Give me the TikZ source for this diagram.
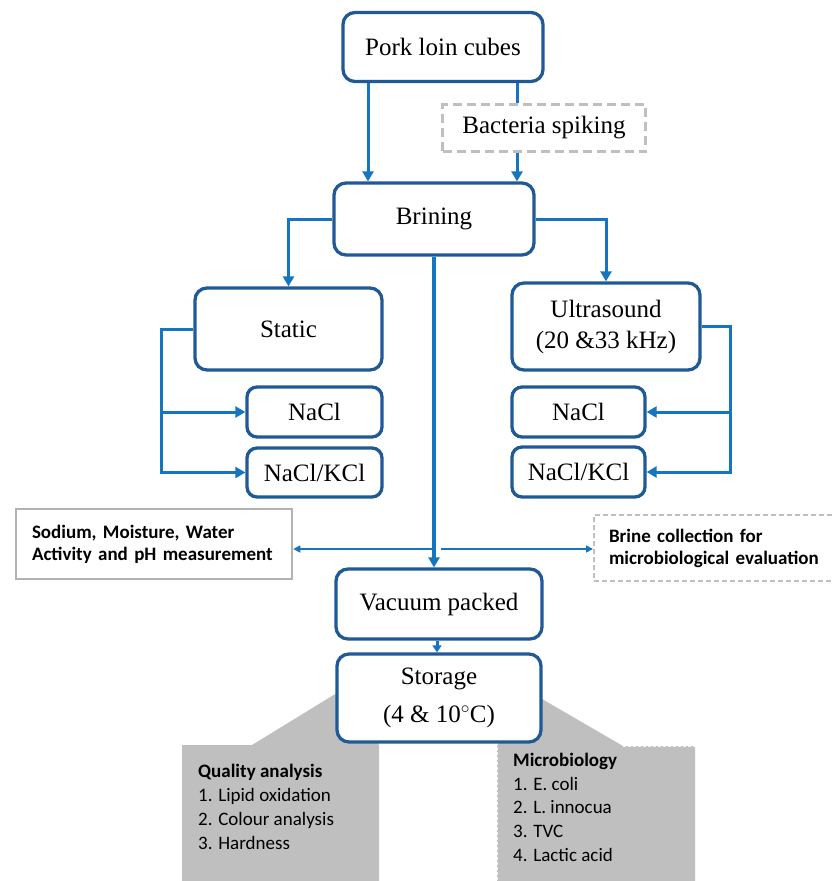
\documentclass[tikz,border=0pt]{standalone}
\usepackage{fontspec}
\setmainfont{Liberation Serif}
\newfontfamily\calibri{Carlito}
\usetikzlibrary{arrows.meta}

\definecolor{boxblue}{RGB}{31,90,150}
\definecolor{flowblue}{RGB}{22,117,192}
\definecolor{callgray}{RGB}{191,191,191}
\definecolor{framegray}{RGB}{178,178,178}

\begin{document}
\begin{tikzpicture}[x=1pt, y=-1pt,
	stage/.style={draw=boxblue, line width=3.3pt, rounded corners=12pt, fill=white, font=\fontsize{25}{30}\selectfont, align=center, inner sep=0pt},
	link/.style={draw=flowblue, line width=3pt},
	flow/.style={link, -{Triangle[length=10pt, width=11pt]}},
	thinflow/.style={draw=flowblue, line width=1.5pt, -{Triangle[length=7pt, width=7pt]}},
	note/.style={font=\calibri\bfseries\fontsize{19}{22}\selectfont, align=left, inner xsep=16pt, inner ysep=0pt},
	listtext/.style={font=\calibri\fontsize{19}{24}\selectfont, align=left, inner sep=0pt, anchor=north west}
	]
	\useasboundingbox (0,0) rectangle (831,881);
	% process boxes
	\node (pork) at (443, 47) [stage, minimum width=200pt, minimum height=69pt] {Pork loin cubes};
	\node (spike) at (544, 128) [draw=callgray, line width=3pt, dash pattern=on 9pt off 5pt, minimum width=203pt, minimum height=47pt, inner sep=0pt, font=\fontsize{25}{30}\selectfont] {Bacteria spiking};
	\node (brine) at (434, 219) [stage, minimum width=200pt, minimum height=72pt] {Brining};
	\node (static) at (288.5, 329) [stage, minimum width=187pt, minimum height=82pt] {Static};
	\node (ultra) at (606, 326.5) [stage, minimum width=188pt, minimum height=87pt] {Ultrasound\\[1pt](20 \&33 kHz)};
	\node (naclL) at (314.5, 412) [stage, rounded corners=10pt, minimum width=135pt, minimum height=50pt] {NaCl};
	\node (kclL) at (314.5, 472.5) [stage, rounded corners=10pt, minimum width=135pt, minimum height=49pt] {NaCl/KCl};
	\node (naclR) at (578.5, 412) [stage, rounded corners=10pt, minimum width=133pt, minimum height=50pt] {NaCl};
	\node (kclR) at (578.5, 472) [stage, rounded corners=10pt, minimum width=133pt, minimum height=50pt] {NaCl/KCl};
	% measurement boxes
	\node (sodium) at (154, 544) [note, draw=framegray, line width=2.5pt, text width=244pt, minimum height=70pt] {Sodium, Moisture, Water\\Activity and pH measurement};
	\node (collect) at (593, 548) [note, anchor=west, draw=callgray, line width=2pt, dash pattern=on 5pt off 3pt, text width=232pt, inner xsep=15pt, minimum height=66pt] {Brine collection for\\microbiological evaluation};
	\node (vacuum) at (439, 604) [stage, minimum width=206pt, minimum height=70pt] {Vacuum packed};
	% analysis callouts
	\fill [callgray] (182,745) -- (252,745) -- (345,688) -- (379,745) -- (379,890) -- (182,890) -- cycle;
	\fill [callgray] (497,746) -- (530,692) -- (623,746) -- (695,746) -- (695,890) -- (497,890) -- cycle;
	\draw [white!85!callgray, line width=1pt, dash pattern=on 3pt off 2pt] (497,890) -- (497,746) (623,746) -- (695,746) -- (695,890);
	\node (quality) at (198, 764) [listtext] {\textbf{Quality analysis}\\1. Lipid oxidation\\2. Colour analysis\\3. Hardness};
	\node (micro) at (513, 753) [listtext, font=\calibri\fontsize{19}{23.7}\selectfont] {\textbf{Microbiology}\\1. E. coli\\2. L. innocua\\3. TVC\\4. Lactic acid};
	\node (storage) at (439, 698) [stage, minimum width=204pt, minimum height=88pt] {Storage\\[8pt](4 \& 10$^{\circ}$C)};
	% connectors
	\draw [flow] ([xshift=-75pt]pork.south) -- ([xshift=-75pt]pork.south |- brine.north);
	\draw [link] ([xshift=74pt]pork.south) -- ([xshift=74pt]pork.south |- spike.north);
	\draw [flow] ([xshift=-27pt]spike.south) -- ([xshift=-27pt]spike.south |- brine.north);
	\draw [flow] (brine.west) -| (static.north);
	\draw [flow] (brine.east) -| (ultra.north);
	\draw [flow] (static.west) -- ++(-32pt,0) |- (naclL.west);
	\draw [flow] (static.west) -- ++(-32pt,0) |- (kclL.west);
	\draw [flow] (ultra.east) -- ++(29pt,0) |- (naclR.east);
	\draw [flow] (ultra.east) -- ++(29pt,0) |- (kclR.east);
	\draw [flow, line width=4.5pt] (brine.south) -- (brine.south |- vacuum.north);
	\coordinate (split) at (434, 549);
	\draw [thinflow] (split) -- (split -| sodium.east);
	\draw [thinflow] ([xshift=7pt]split) -- (split -| collect.west);
	\draw [link, -{Triangle[length=7pt, width=9pt]}] ([xshift=-2pt]vacuum.south) -- ([xshift=-2pt]vacuum.south |- storage.north);
\end{tikzpicture}
\end{document}
